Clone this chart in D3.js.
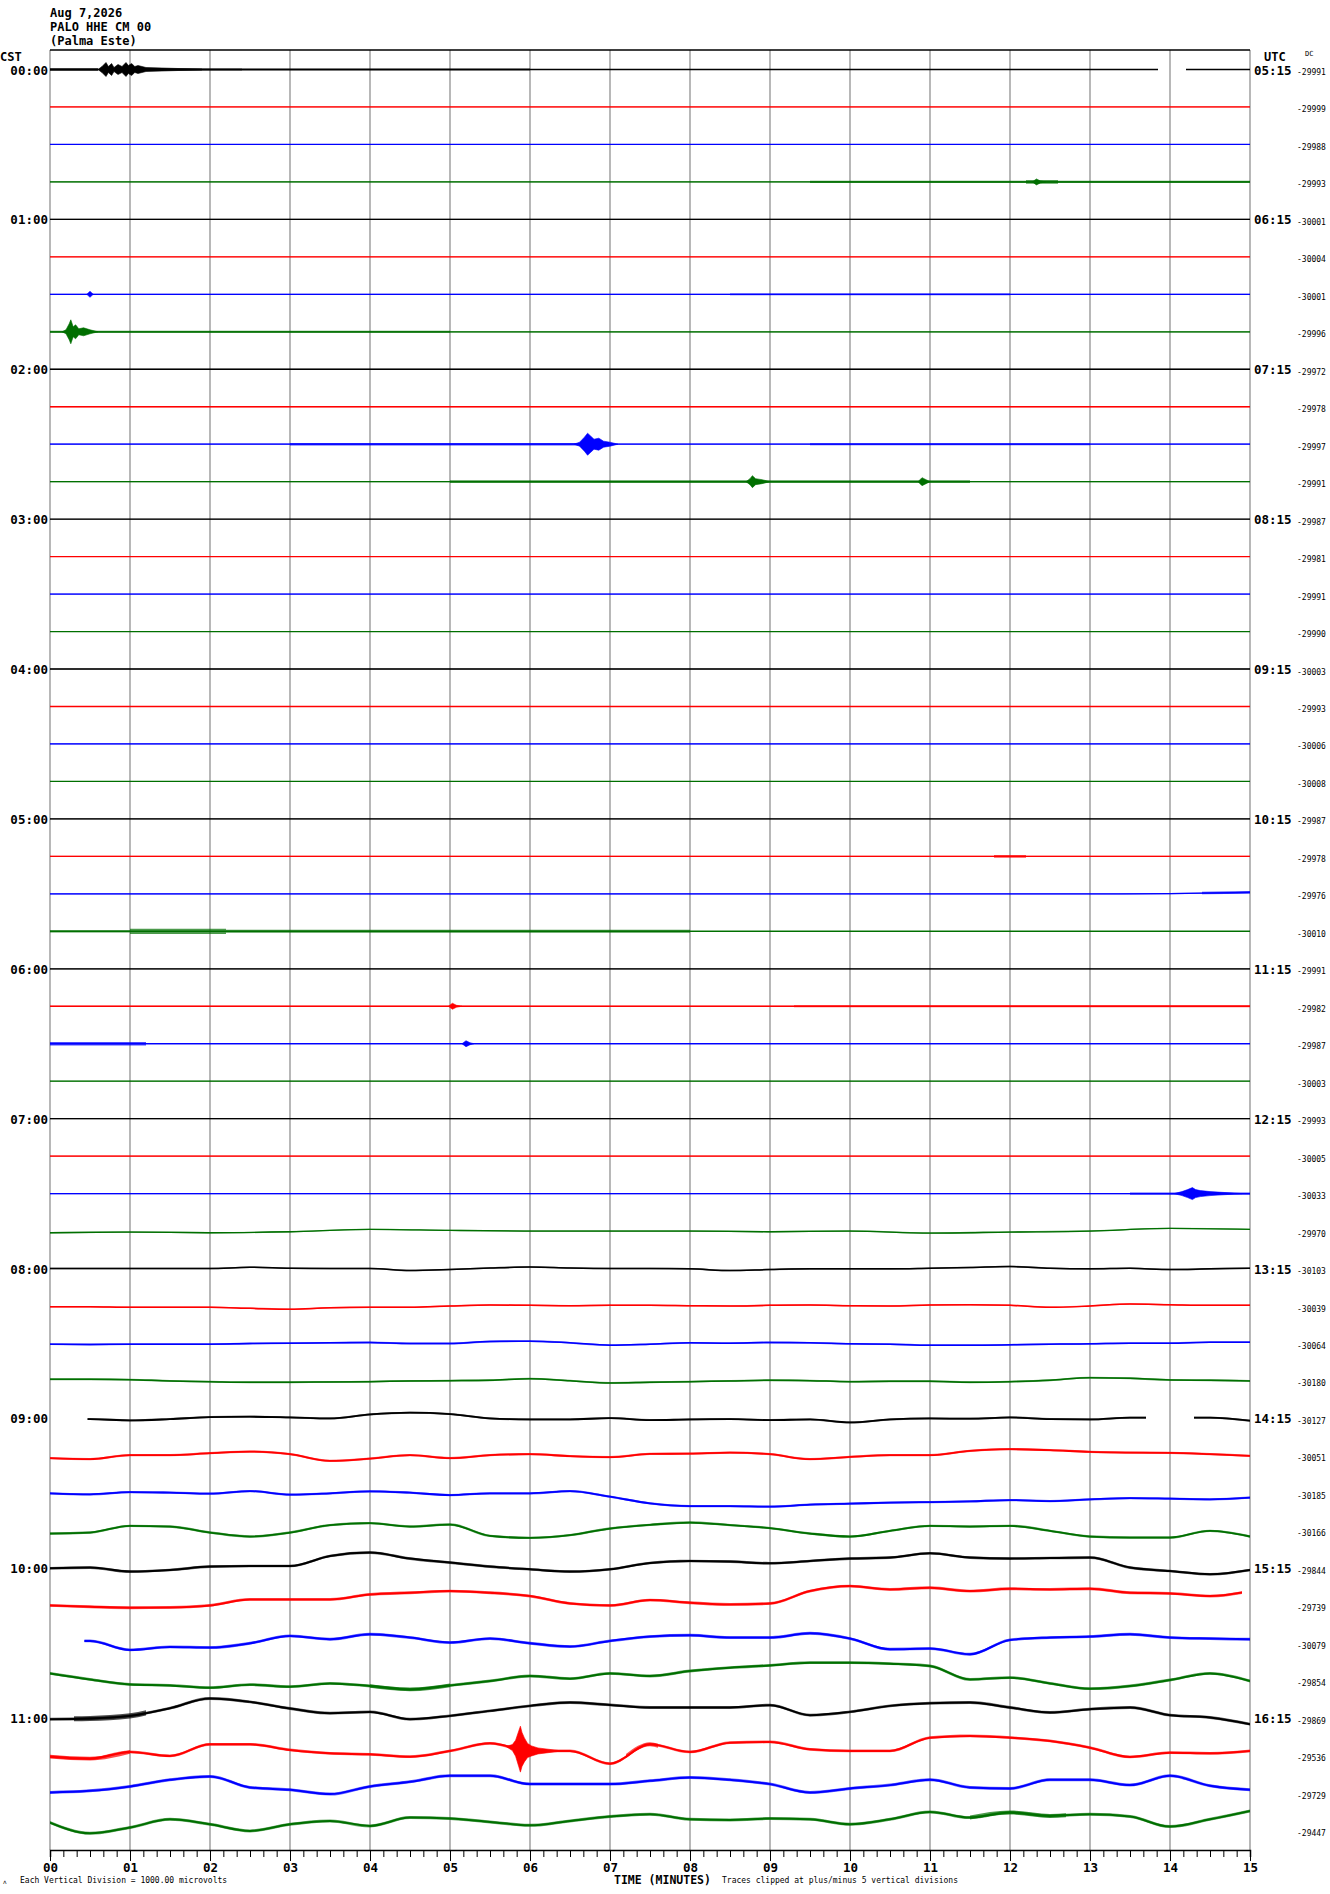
<!DOCTYPE html>
<html>
<head>
<meta charset="utf-8">
<script src="https://cdn.jsdelivr.net/npm/d3@7"></script>
<style>
  body { margin: 0; background: #fff; }
  svg { display: block; }
  text { font-family: "DejaVu Sans Mono", "Liberation Mono", monospace; fill: #000; }
</style>
</head>
<body>
<svg id="chart" width="1330" height="1894"></svg>
<script>
// ---------------------------------------------
// Helicorder page: PALO HHE CM 00, 48 lines of 15 min
// Values.
// Offsets are in plot pixels, up = positive.
// ---------------------------------------------

const headerLines = ['Aug 7,2026', 'PALO HHE CM 00', '(Palma Este)'];
const traceColors = ['#000000', '#ff0000', '#0000ff', '#006f00'];
const cstLabels = ['00:00','01:00','02:00','03:00','04:00','05:00','06:00','07:00','08:00','09:00','10:00','11:00'];
const utcLabels = ['05:15','06:15','07:15','08:15','09:15','10:15','11:15','12:15','13:15','14:15','15:15','16:15'];
const dcValues = [
  -29991, -29999, -29988, -29993, -30001, -30004, -30001, -29996,
  -29972, -29978, -29997, -29991, -29987, -29981, -29991, -29990,
  -30003, -29993, -30006, -30008, -29987, -29978, -29976, -30010,
  -29991, -29982, -29987, -30003, -29993, -30005, -30033, -29970,
  -30103, -30039, -30064, -30180, -30127, -30051, -30185, -30166,
  -29844, -29739, -30079, -29854, -29869, -29536, -29729, -29447
];
const minuteLabels = ['00','01','02','03','04','05','06','07','08','09','10','11','12','13','14','15'];

// slow drift of each line, evenly spaced over 0..15 minutes
const drift = [
  [0, 0], [0, 0], [0, 0], [0, 0],                       // 00:00
  [0, 0], [0, 0], [0, 0], [0, 0],                       // 01:00
  [0, 0], [0, 0], [0, 0], [0, 0],                       // 02:00
  [0, 0], [0, 0], [0, 0], [0, 0],                       // 03:00
  [0, 0], [0, 0], [0, 0], [0, 0],                       // 04:00
  [0, 0], [0, 0],
  [0, 0, 0, 0, 0, 0, 0, 0, 0, 0, 0, 0, 0, 0, 0.3, 1.5],
  [0, 0],                                               // 05:00
  [0, 0], [0, 0], [0, 0], [0, 0],                       // 06:00
  [0, 0], [0, 0], [0, 0],
  [-1.7, -1, -1.7, -0.7, 1.7, 0.7, 0, 0, 0, -0.7, 0, -2, -1, 0, 2.7, 1.7],   // 07:45
  [0, 0, 0, 0, 0, 1.3, 0.3, 0, 0, -2, -1, 0.5, 1.5, 0.5, 0, 0, -0.3, -2, -1, -0.3, -0.3, -0.3, 0.3, 1, 2, 0.3, -0.3, 0.3, -1, -0.3, 0.3],
  [-0.7, -0.7, -1.3, -1.3, -1.3, -2.3, -3.3, -1.7, -1.3, -1.3, 0, 1, 0.7, 0.3, 0.7, 0.7, 0.3, 0, 0.7, 1, 0.3, 0, 1, 1.3, 0.7, -1.3, 0, 2, 1.3, 0.7, 0.7],
  [-0.7, -1, -0.7, -0.7, -0.7, 0, 0.3, 0.7, 1, 0, 0, 2, 2.3, 0.7, -1.7, -0.7, 0.7, 0.3, 1, 0.7, -0.3, -0.7, -1.7, -1.7, -1.3, -0.7, -0.3, 0.3, 0.3, 1.3, 1.3],
  [1.7, 1.7, 1.3, 0, -0.7, -1.3, -1.3, -1, -0.7, 0, 0.3, 0.7, 2.3, 0.3, -2, -1.3, -0.7, 0, 0.7, 0.3, -0.7, -0.3, -0.3, -1.3, -0.7, 0.7, 3.3, 2.7, 1, 0.7, 0],
  [-0.7, -0.7, -2, -0.7, 1.3, 1.7, 1, 0, 4, 5.7, 4.3, 0, -1, -1, 0.3, -1.7, -1, -0.7, -1.7, -1, -4, -1, 0, -0.3, 1, -0.7, -1, 0.7, 0.7, 0.7, -2.3],
  [-2.3, -3.3, 0.7, 0.7, 2.7, 4.3, 1.7, -5, -2.7, 0.7, -2.3, 0.7, 1.7, -0.3, -1.3, 2, 2.3, 3.3, 1.7, -3.3, -1, 0.7, 0.7, 5, 6.7, 5.7, 4, 3.3, 3, 1.7, 0],
  [0, -1, 1.3, 0.7, -0.3, 2.3, -1.3, 0, 2, 0.7, -1.7, 0, 0, 2.3, -3.3, -10, -12.7, -12.7, -13.3, -11.3, -10.3, -9.3, -8.7, -8, -6.7, -7.7, -6, -4.7, -5.3, -6, -4.3],
  [-2.7, -1.7, 5, 4.3, -1.7, -5.7, -1.7, 5.7, 7.7, 4.3, 6.3, -5, -7, -4.3, 2.3, 6, 8.3, 5.7, 2.7, -2.7, -5.7, 0, 5, 4.3, 5, 0, -5.7, -6.7, -6.7, 0, -5.7],
  [0, 0.7, -3.3, -1.7, 1.7, 2.3, 2.3, 12.3, 15.7, 9.7, 5.7, 1.7, -1, -3.3, -1, 5.3, 7.3, 6.7, 5, 7.3, 9.7, 10.7, 15, 10.7, 9.7, 10.3, 10.7, 0.7, -2.7, -6, -1.7],
  [0.3, -1, -2, -1.7, 0.3, 6.3, 6.3, 6.3, 11.3, 13, 14.7, 13, 9.7, 2.3, 0.3, 5.7, 3, 1.3, 2.3, 14.7, 19.7, 16.3, 18, 14.7, 17, 16.3, 17, 13, 12.3, 9.7, 14.7],
  [2.3, 2.3, -6.7, -3.7, -4.3, 0, 7.3, 4, 9, 5.7, 0.7, 4.7, 0, -3.3, 2.3, 6.7, 8, 5.7, 5.7, 10, 4.7, -6, -5.3, -11, 3.3, 5.7, 6.7, 9, 5.7, 4.7, 4],
  [7.3, 1.3, -3.7, -4.7, -7, -4, -6, -2.7, -5.3, -8.7, -4.7, -0.3, 4.7, 2, 7.3, 4.7, 9.7, 13, 15.3, 18, 18, 17, 14.7, 1.3, 3, -2.7, -8, -5.3, 0.7, 7.3, -0.3],
  [-1, -0.3, 2.3, 10, 19.7, 16.3, 9.7, 5, 6.3, -1, 2.3, 7.3, 12.3, 15.7, 13.3, 10.7, 10.7, 10.7, 13, 3, 6.3, 12.3, 15, 15.7, 10.7, 5.7, 9, 10.7, 3, 0.7, -6],
  [-1, -3, 3.7, -0.3, 11.3, 11.3, 5.7, 2.3, 1.3, -1, 4.7, 12.3, 4.7, 4.7, -8, 11.3, 3.7, 13, 13.7, 6.3, 4.7, 4.7, 18, 19.7, 18, 14.7, 8, -1.3, 3, 2.3, 4.7],
  [0.7, 2.3, 6.7, 13.3, 16.7, 5.7, 3.3, -1, 6.7, 11.3, 17.3, 17.3, 9, 9, 9, 12.3, 15.7, 13.3, 9, 0.7, 4.7, 8, 13.3, 5.7, 4.7, 13.3, 13.3, 8, 17.3, 7.3, 3.3],
  [8, -2.7, 3, 11.3, 6.3, -0.3, 6.3, 9.7, 4.7, 13, 12, 8.7, 5.3, 9.7, 14, 16.3, 11.3, 10.7, 12, 11.3, 6.3, 11.3, 18.7, 13, 18, 14.7, 16.3, 14, 4, 11.3, 19.7]
];

// background noise half-width per line
const noiseLevel = [
  0.6, 0.5, 0.5, 0.6, 0.6, 0.5, 0.6, 0.6, 0.6, 0.5, 0.6, 0.6,
  0.5, 0.5, 0.5, 0.5, 0.5, 0.5, 0.6, 0.5, 0.6, 0.5, 0.6, 0.7,
  0.6, 0.6, 0.7, 0.5, 0.6, 0.6, 0.6, 0.7, 0.8, 0.8, 0.9, 0.9,
  1.0, 1.1, 1.1, 1.2, 1.3, 1.4, 1.4, 1.4, 1.4, 1.4, 1.5, 1.5
];

// stretches of stronger noise: [line, from min, to min, half-width]
const noisyStretches = [
  [0, 0, 0.6, 1.6], [0, 1.1, 2.4, 1.3], [0, 2.4, 6, 0.9],
  [3, 9.5, 15, 1.1], [3, 12.2, 12.6, 1.8],
  [6, 8.5, 12, 0.9],
  [7, 0, 5, 1.0],
  [10, 3, 6.6, 1.3], [10, 9.5, 13, 1.0],
  [11, 5, 11.5, 1.4],
  [21, 11.8, 12.2, 1.4],
  [22, 14.4, 15, 1.3],
  [23, 0, 1, 1.1], [23, 1, 2.2, 2.6], [23, 2.2, 8, 1.5],
  [25, 9.3, 15, 1.0],
  [26, 0, 1.2, 1.7],
  [30, 13.5, 15, 1.1],
  [43, 4, 5, 1.8],
  [44, 0.3, 1.2, 2.6],
  [45, 0, 1, 1.9], [45, 7.2, 7.6, 2.0],
  [47, 11.5, 12.7, 2.0]
];

// transient signals: envelope [minute, half-amplitude]
const bursts = [
  { line: 0,  env: [[0.6, 0], [0.65, 3], [0.7, 7], [0.73, 3], [0.77, 6], [0.8, 2], [0.85, 5], [0.9, 3], [0.95, 7], [0.98, 4], [1.02, 6], [1.06, 3], [1.1, 4], [1.2, 2], [1.4, 1.5], [1.6, 1], [1.9, 0.5]] },
  { line: 3,  env: [[12.28, 0], [12.33, 3], [12.38, 1], [12.45, 0]] },
  { line: 6,  env: [[0.46, 0], [0.5, 3], [0.54, 0]] },
  { line: 7,  env: [[0.15, 0], [0.2, 2], [0.24, 8], [0.26, 12], [0.29, 5], [0.32, 7], [0.36, 3], [0.42, 4], [0.5, 2], [0.6, 0]] },
  { line: 10, env: [[6.55, 0], [6.62, 2], [6.68, 7], [6.72, 11], [6.76, 8], [6.8, 5], [6.86, 6], [6.92, 3], [7.0, 2], [7.1, 0]] },
  { line: 11, env: [[8.7, 0], [8.75, 3], [8.78, 6], [8.82, 3], [8.9, 2], [9.0, 0]] },
  { line: 11, env: [[10.85, 0], [10.9, 4], [10.95, 2], [11.0, 0]] },
  { line: 25, env: [[4.98, 0], [5.03, 3], [5.08, 1], [5.15, 0]] },
  { line: 26, env: [[5.15, 0], [5.2, 3], [5.25, 1], [5.3, 0]] },
  { line: 30, env: [[14.05, 0], [14.15, 2], [14.22, 4], [14.28, 6], [14.32, 4], [14.38, 3], [14.5, 2], [14.7, 1], [14.9, 0]] },
  { line: 45, env: [[5.7, 0], [5.78, 3], [5.82, 8], [5.86, 18], [5.88, 23], [5.9, 17], [5.93, 12], [5.97, 7], [6.02, 5], [6.1, 3], [6.2, 2], [6.4, 0]] }
];

// where a line has data (others run the full 0..15)
const traceSpans = [
  { line: 0,  spans: [[0, 13.85], [14.2, 15]] },
  { line: 36, spans: [[0.47, 13.7], [14.3, 15]] },
  { line: 41, spans: [[0, 14.9]] },
  { line: 42, spans: [[0.43, 15]] }
];

// --------------------------------------------------
// Scales
// --------------------------------------------------
const x = d3.scaleLinear().domain([0, 15]).range([50, 1250]);
const lineY = d3.scaleLinear().domain([0, 47]).range([69.5, 69.5 + 47 * 37.47]);
const amp = d3.scaleLinear().domain([-1, 1]).range([1, -1]);   // offset -> pixel shift
const plotTop = 50, axisY = 1850;

const svg = d3.select('#chart');
const defs = svg.append('defs');

// Header
headerLines.forEach((t, i) => {
  svg.append('text')
    .attr('x', 50).attr('y', 17 + i * 14)
    .attr('font-size', 12).attr('font-weight', 'bold')
    .text(t);
});
svg.append('text').attr('x', 0).attr('y', 61)
  .attr('font-size', 12).attr('font-weight', 'bold').text('CST');
svg.append('text').attr('x', 1264).attr('y', 61)
  .attr('font-size', 12).attr('font-weight', 'bold').text('UTC');
svg.append('text').attr('x', 1305).attr('y', 56)
  .attr('font-size', 7).text('DC');

// Minute grid
svg.append('g').selectAll('line')
  .data(d3.range(0, 16))
  .join('line')
  .attr('x1', d => x(d)).attr('x2', d => x(d))
  .attr('y1', plotTop).attr('y2', axisY)
  .attr('stroke', '#888').attr('stroke-width', 1.2);

svg.append('line')
  .attr('x1', x(0)).attr('x2', x(15))
  .attr('y1', plotTop).attr('y2', plotTop)
  .attr('stroke', '#000').attr('stroke-width', 1.3);

// --------------------------------------------------
// Traces
// --------------------------------------------------
const curve = d3.curveMonotoneX;

drift.forEach((vals, k) => {
  const y0 = lineY(k);
  const color = traceColors[k % 4];
  const step = 15 / (vals.length - 1);
  const mins = vals.map((v, i) => i * step);
  const level = d3.scaleLinear().domain(mins).range(vals);
  const pts = mins.map((m, i) => [m, vals[i]]);

  const entry = traceSpans.find(s => s.line === k);
  const spans = entry ? entry.spans : [[0, 15]];
  const cp = defs.append('clipPath').attr('id', 'clip' + k);
  spans.forEach(([a, b]) => {
    cp.append('rect')
      .attr('x', x(a)).attr('width', x(b) - x(a))
      .attr('y', y0 - 40).attr('height', 80);
  });

  const g = svg.append('g').attr('clip-path', `url(#clip${k})`);

  const band = (list, w) => d3.area()
    .curve(curve)
    .x(d => x(d[0]))
    .y0(d => y0 + amp(d[1]) - w)
    .y1(d => y0 + amp(d[1]) + w)(list);

  // background noise band
  g.append('path')
    .attr('d', band(pts, noiseLevel[k]))
    .attr('fill', color)
    .attr('fill-opacity', 0.6);

  // stronger noise stretches
  noisyStretches.filter(s => s[0] === k).forEach(([, a, b, w]) => {
    const list = [[a, level(a)]]
      .concat(pts.filter(p => p[0] > a && p[0] < b))
      .concat([[b, level(b)]]);
    g.append('path').attr('d', band(list, w))
      .attr('fill', color)
      .attr('fill-opacity', 0.7);
  });

  // main trace
  const width = k >= 40 ? 2 : k >= 36 ? 1.8 : k >= 32 ? 1.5 : 1.3;
  g.append('path')
    .attr('d', d3.line().curve(curve).x(d => x(d[0])).y(d => y0 + amp(d[1]))(pts))
    .attr('fill', 'none')
    .attr('stroke', color)
    .attr('stroke-width', width);

  // events
  bursts.filter(b => b.line === k).forEach(b => {
    g.append('path')
      .attr('d', d3.area()
        .x(d => x(d[0]))
        .y0(d => y0 + amp(level(d[0])) - d[1])
        .y1(d => y0 + amp(level(d[0])) + d[1])(b.env))
      .attr('fill', color)
      .attr('stroke', color)
      .attr('stroke-width', 0.6);
  });

  // right-hand DC value
  svg.append('text')
    .attr('x', 1297).attr('y', y0 + 5.5)
    .attr('font-size', 8)
    .text(dcValues[k]);
});

// Hour labels, every 4th line
cstLabels.forEach((t, i) => {
  svg.append('text')
    .attr('x', 48).attr('y', lineY(i * 4) + 5)
    .attr('text-anchor', 'end')
    .attr('font-size', 12.5).attr('font-weight', 'bold')
    .text(t);
});
utcLabels.forEach((t, i) => {
  svg.append('text')
    .attr('x', 1254).attr('y', lineY(i * 4) + 5)
    .attr('font-size', 12.5).attr('font-weight', 'bold')
    .text(t);
});

// --------------------------------------------------
// Time axis
// --------------------------------------------------
const minor = svg.append('g').attr('transform', `translate(0,${axisY})`)
  .call(d3.axisBottom(x).tickValues(d3.range(0, 90 + 1).map(i => i / 6)).tickSize(7).tickFormat(''));
minor.select('.domain').attr('stroke', '#000').attr('stroke-width', 1.5);
minor.selectAll('.tick line').attr('stroke', '#000');

const major = svg.append('g').attr('transform', `translate(0,${axisY})`)
  .call(d3.axisBottom(x).tickValues(d3.range(0, 16)).tickSize(11).tickPadding(2)
    .tickFormat((d, i) => minuteLabels[i]));
major.select('.domain').remove();
major.selectAll('.tick line').attr('stroke', '#000');
major.selectAll('.tick text')
  .attr('font-family', '"DejaVu Sans Mono", monospace')
  .attr('font-size', 12.5).attr('font-weight', 'bold').attr('fill', '#000');

svg.append('text').attr('x', 3).attr('y', 1884).attr('font-size', 6).text('ʌ');
svg.append('text').attr('x', 20).attr('y', 1883).attr('font-size', 8)
  .text('Each Vertical Division = 1000.00 microvolts');
svg.append('text').attr('x', 614).attr('y', 1884)
  .attr('font-size', 11.5).attr('font-weight', 'bold')
  .text('TIME (MINUTES)');
svg.append('text').attr('x', 722).attr('y', 1883).attr('font-size', 8)
  .text('Traces clipped at plus/minus 5 vertical divisions');
</script>
</body>
</html>
